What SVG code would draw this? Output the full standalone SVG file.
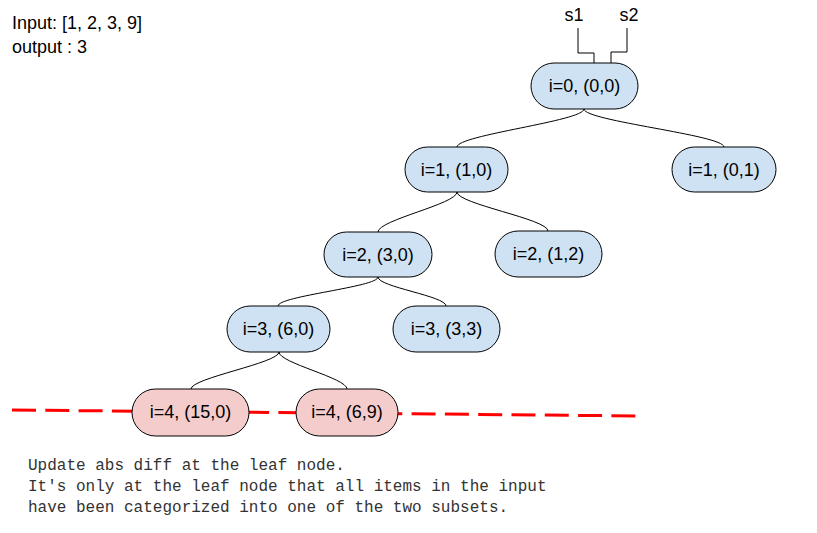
<svg xmlns="http://www.w3.org/2000/svg" width="817" height="533" viewBox="0 0 817 533">
<style>
.lbl{font-family:"Liberation Sans",Arial,sans-serif;font-size:18px;fill:#000}
.nt{font-family:"Liberation Sans",Arial,sans-serif;font-size:18px;fill:#000;text-anchor:middle}
.blue{fill:#cfe2f3;stroke:#000;stroke-width:1}
.red{fill:#f4cccc;stroke:#000;stroke-width:1}
.conn path{fill:none;stroke:#000;stroke-width:1}
.note{font-family:"Liberation Mono","Courier New",monospace;font-size:16px;fill:#333}
</style>
<rect width="817" height="533" fill="#fff"/>
<text class="lbl" x="12" y="29">Input: [1, 2, 3, 9]</text>
<text class="lbl" x="12" y="53">output : 3</text>
<text class="nt" x="574" y="21">s1</text>
<text class="nt" x="629" y="21">s2</text>
<line x1="12" y1="410" x2="643" y2="416" stroke="#ff0000" stroke-width="3" stroke-dasharray="24 9.3"/>
<g class="conn" id="connectors">
<path d="M584,109 C584,121 457,135 457,147"/>
<path d="M584,109 C584,121 724,135 724,147"/>
<path d="M457,192 C457,204 378,220 378,232"/>
<path d="M457,192 C457,204 548,219 548,231"/>
<path d="M378,277 C378,287 278,296 278,306"/>
<path d="M378,277 C378,287 446,296 446,306"/>
<path d="M279,352 C279,363 191,378 191,389"/>
<path d="M279,352 C279,363 347,378 347,389"/>
<path d="M578,28 V53 H594 V80"/>
<path d="M627,28 V52 H611 V80"/>
</g>
<g id="n0"><rect class="blue" x="531" y="63" width="107" height="46" rx="23"/><text class="nt" x="584.5" y="92">i=0, (0,0)</text></g>
<g id="n1a"><rect class="blue" x="405" y="147" width="103" height="45" rx="22.5"/><text class="nt" x="456.5" y="176">i=1, (1,0)</text></g>
<g id="n1b"><rect class="blue" x="672" y="147" width="104" height="45" rx="22.5"/><text class="nt" x="724" y="176">i=1, (0,1)</text></g>
<g id="n2a"><rect class="blue" x="324" y="232" width="108" height="45" rx="22.5"/><text class="nt" x="378" y="261">i=2, (3,0)</text></g>
<g id="n2b"><rect class="blue" x="495" y="231" width="107" height="46" rx="23"/><text class="nt" x="548.5" y="260">i=2, (1,2)</text></g>
<g id="n3a"><rect class="blue" x="227" y="306" width="103" height="46" rx="23"/><text class="nt" x="278.5" y="335">i=3, (6,0)</text></g>
<g id="n3b"><rect class="blue" x="393" y="306" width="107" height="46" rx="23"/><text class="nt" x="446.5" y="335">i=3, (3,3)</text></g>
<g id="n4a"><rect class="red" x="132" y="389" width="117" height="47" rx="23.5"/><text class="nt" x="190.5" y="418">i=4, (15,0)</text></g>
<g id="n4b"><rect class="red" x="296" y="389" width="102" height="47" rx="23.5"/><text class="nt" x="347" y="418">i=4, (6,9)</text></g>
<text class="note" x="28" y="470">Update abs diff at the leaf node.</text>
<text class="note" x="28" y="491">It's only at the leaf node that all items in the input</text>
<text class="note" x="28" y="512">have been categorized into one of the two subsets.</text>
</svg>
